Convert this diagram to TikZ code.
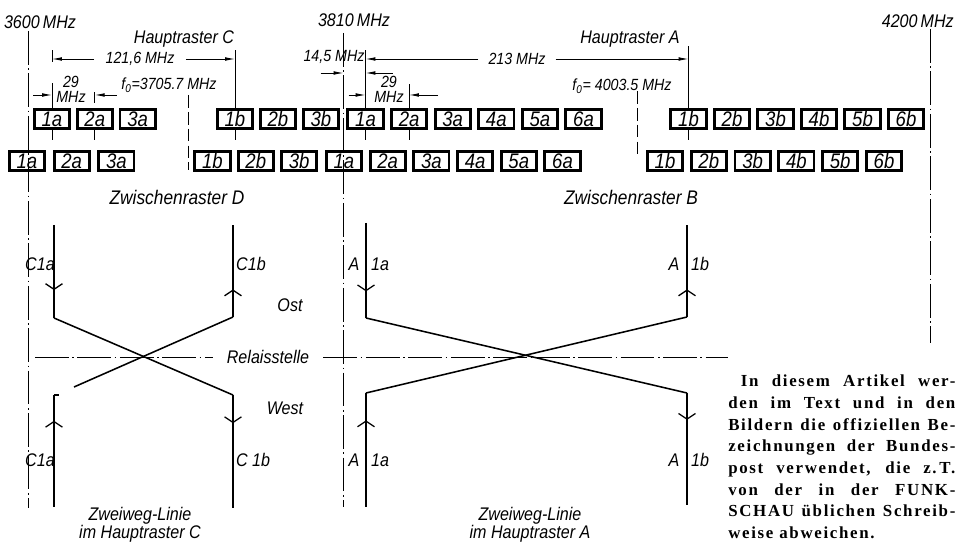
\documentclass[tikz,border=0pt]{standalone}
\usepackage{fontspec}
\usetikzlibrary{arrows.meta,decorations.markings}
\newfontfamily\lblfont[FakeStretch=0.88]{Liberation Sans}
\newfontfamily\notefont[LetterSpace=10]{Liberation Serif}

\begin{document}
\begin{tikzpicture}[x=0.025cm, y=-0.025cm,
	lbl/.style={font=\lblfont\itshape\fontsize{13}{12}\selectfont, inner sep=0pt},
	dim/.style={font=\lblfont\itshape\fontsize{11.5}{10.5}\selectfont, inner sep=0pt, align=center},
	chan/.style={draw, line width=2pt, minimum width=0.88cm, minimum height=0.48cm, inner sep=0pt, font=\lblfont\itshape\fontsize{15}{15}\selectfont},
	axis/.style={line width=0.6pt, dash pattern=on 24pt off 2.5pt on 1.2pt off 2.5pt},
	fzero/.style={line width=0.6pt, dash pattern=on 9pt off 3pt},
	ext/.style={line width=0.6pt},
	dimarr/.style={line width=0.6pt, -{Latex[length=7pt,width=2.6pt]}},
	sig/.style={line width=1.1pt},
	flow/.style={postaction={decorate, decoration={markings, mark=at position #1 with {\arrow{Straight Barb[length=4pt,width=12pt,line width=0.9pt]}}}}}]
	\useasboundingbox (0,0) rectangle (956,544);
	\node[lbl] (m3600) at (40,22) {3600\,MHz};
	\node[lbl] (m3810) at (354,20) {3810\,MHz};
	\node[lbl, anchor=east] (m4200) at (954,21) {4200\,MHz};
	\draw[axis] (28,31) -- (28,508);
	\draw[axis] (343,33) -- (343,507);
	\draw[axis] (930,29) -- (930,343);
	\foreach \nm/\x/\dx/\y/\suf/\cnt in {hca/52/42.8/119/a/3, hcb/235/43/119/b/3, haa/365.5/43.6/119/a/6, hab/688.5/43.5/119/b/6, zda/27/44.7/161/a/3, zdb/212.5/43.3/161/b/3, zba/344/43.7/161/a/6, zbb/665/43.8/161/b/6}
		{\foreach \i in {1,...,\cnt} {\node[chan] (\nm\i) at ({\x+\dx*(\i-1)},\y) {\i\suf};}}
	\node[lbl] (hrC) at (184,39) {Hauptraster C};
	\node[lbl] (hrA) at (630,39) {Hauptraster A};
	\node[dim, inner xsep=8pt] (d121) at (140,59) {121,6 MHz};
	\node[dim, inner xsep=7pt] (d213) at (517,59) {213 MHz};
	\node[dim] (d145) at (334,57) {14,5 MHz};
	\node[dim] (d29c) at (71,89) {29\\MHz};
	\node[dim] (d29a) at (389,89) {29\\MHz};
	\node[dim] (f0c) at (169,85) {f\textsubscript{0}=3705.7 MHz};
	\node[dim] (f0a) at (622,86) {f\textsubscript{0}= 4003.5 MHz};
	\draw[dimarr] (d121.west) -- (hca1 |- d121);
	\draw[dimarr] (d121.east) -- (hcb1 |- d121);
	\draw[dimarr] (d213.west) -- (haa1 |- d213);
	\draw[dimarr] (d213.east) -- (hab1 |- d213);
	\draw[ext] (hca1.north) -- ++(0,-25) (hca1.north) ++(0,-46) -- ++(0,-12);
	\draw[ext] (hca2.north) ++(0,-5) -- ++(0,-11);
	\draw[ext] (hcb1.north) -- ++(0,-58);
	\draw[ext] (haa1.north) -- ++(0,-58);
	\draw[ext] (haa2.north) -- ++(0,-24);
	\draw[ext] (hab1.north) -- ++(0,-62);
	\foreach \n in {hca1,hca2,hcb1,haa1,haa2,hab1} {\draw[ext] (\n.south) -- ++(0,10);}
	\draw[dimarr] (hca1.north) ++(-19,-13) -- ++(19,0);
	\draw[dimarr] (hca2.north) ++(22,-13) -- ++(-22,0);
	\draw[dimarr] (haa1.north) ++(-17,-13) -- ++(17,0);
	\draw[dimarr] (haa2.north) ++(29,-13) -- ++(-29,0);
	\draw[dimarr] (haa1.north) ++(-45,-35) -- ++(23,0);
	\draw[dimarr] (haa1.north) ++(27,-35) -- ++(-27,0);
	\draw[fzero] (188,95) -- (188,170);
	\draw[fzero] (637,91) -- (637,155);
	\node[lbl, font=\lblfont\itshape\fontsize{14}{14}\selectfont] (zrD) at (177,197) {Zwischenraster D};
	\node[lbl, font=\lblfont\itshape\fontsize{14}{14}\selectfont] (zrB) at (631,197) {Zwischenraster B};
	\coordinate (C1aN) at (54,225);
	\coordinate (C1aO) at (54,318);
	\coordinate (C1aG) at (74,387);
	\coordinate (C1aW) at (54,395);
	\coordinate (C1aS) at (54,507);
	\coordinate (C1bN) at (233,225);
	\coordinate (C1bO) at (233,317);
	\coordinate (C1bW) at (233,395);
	\coordinate (C1bS) at (233,508);
	\coordinate (A1aN) at (366,223);
	\coordinate (A1aO) at (366,318);
	\coordinate (A1aW) at (366,393);
	\coordinate (A1aS) at (366,507);
	\coordinate (A1bN) at (687,225);
	\coordinate (A1bO) at (687,317);
	\coordinate (A1bW) at (687,393);
	\coordinate (A1bS) at (687,505);
	\draw[sig, flow=0.7] (C1aN) -- (C1aO);
	\draw[sig] (C1aO) -- (C1bW);
	\draw[sig, flow=0.3] (C1bO) -- (C1bN);
	\draw[sig] (C1bO) -- (C1aG);
	\draw[sig, flow=0.25] (C1bW) -- (C1bS);
	\draw[sig, flow=0.77] (C1aS) -- (C1aW);
	\draw[sig] (C1aW) -- ++(5,0);
	\draw[sig, flow=0.72] (A1aN) -- (A1aO);
	\draw[sig] (A1aO) -- (A1bW);
	\draw[sig, flow=0.3] (A1bO) -- (A1bN);
	\draw[sig] (A1bO) -- (A1aW);
	\draw[sig, flow=0.24] (A1bW) -- (A1bS);
	\draw[sig, flow=0.76] (A1aS) -- (A1aW);
	\node[lbl, inner xsep=10pt] (relais) at (268,357) {Relaisstelle};
	\draw[axis] (35,357) -- (relais.west);
	\draw[axis] (relais.east) -- (728,357);
	\node[lbl] (ost) at (290,305) {Ost};
	\node[lbl] (west) at (285,408) {West};
	\node[lbl] (lC1aO) at (40,264) {C1a};
	\node[lbl] (lC1bO) at (251,264) {C1b};
	\node[lbl] (lC1aW) at (40,460) {C1a};
	\node[lbl] (lC1bW) at (253,460) {C 1b};
	\foreach \y/\s in {264/O, 460/W} {
		\node[lbl] (lAa\s) at (354,\y) {A};
		\node[lbl] (l1a\s) at (380,\y) {1a};
		\node[lbl] (lAb\s) at (674,\y) {A};
		\node[lbl] (l1b\s) at (700,\y) {1b};
	}
	\node[lbl, align=center] (zwC) at (140,525) {Zweiweg-Linie\\im Hauptraster C};
	\node[lbl, align=center] (zwA) at (530,525) {Zweiweg-Linie\\im Hauptraster A};
	\node[anchor=north west, inner sep=0pt, text width=161.5pt, align=justify, font=\notefont\bfseries\fontsize{12}{15.4}\selectfont] (note) at (728,375)
		{\sloppy\hyphenpenalty=10000\hspace*{9pt}In diesem Artikel wer-\linebreak den im Text und in den\linebreak Bildern die offiziellen Be-\linebreak zeichnungen der Bundes-\linebreak post verwendet, die z.\,T.\linebreak von der in der FUNK-\linebreak SCHAU üblichen Schreib-\linebreak weise abweichen.};
\end{tikzpicture}
\end{document}
